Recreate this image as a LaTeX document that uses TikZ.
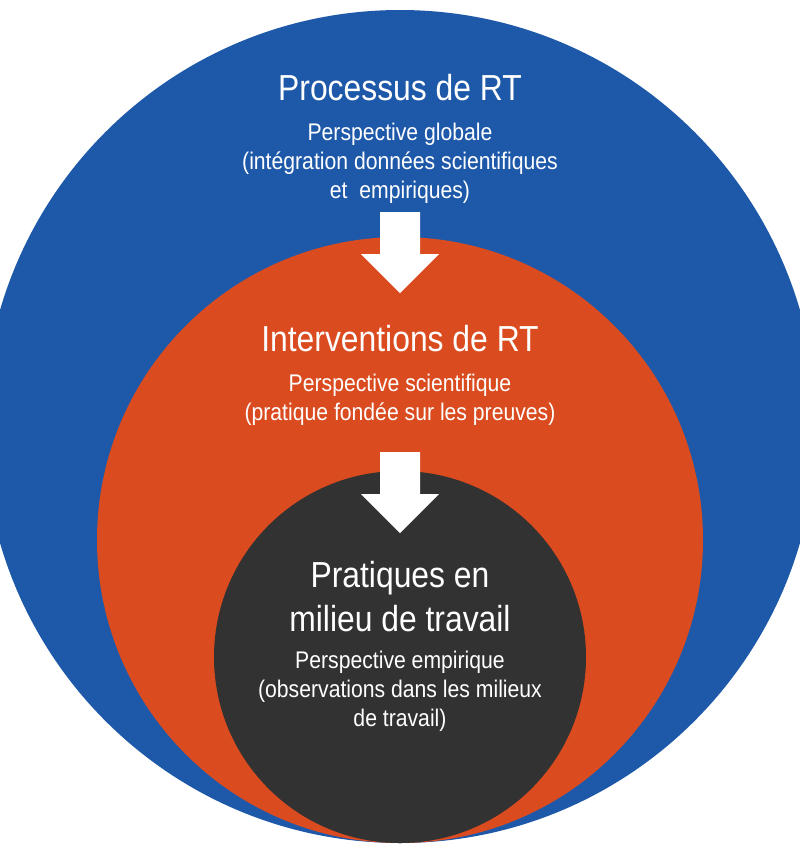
\documentclass[tikz,border=0pt]{standalone}
\usepackage{fontspec}
\setmainfont{Liberation Sans}[FakeStretch=0.88]
\definecolor{Blue}{RGB}{30,89,169}
\definecolor{Orange}{RGB}{218,75,31}
\definecolor{Dark}{RGB}{50,50,50}
\usetikzlibrary{positioning, calc}

\begin{document}
\begin{tikzpicture}[x=0.02cm, y=-0.02cm,
    title/.style={text=white, inner sep=0, anchor=north, align=center, font=\fontsize{20.6}{24.9}\selectfont},
    sub/.style={text=white, inner sep=0, anchor=north, align=center, font=\fontsize{13.7}{16.4}\selectfont}]

    \useasboundingbox (0,0) rectangle (800,850);
    \clip (0,0) rectangle (800,850);

    % circles
    \fill[Blue] (400,426.5) circle (416.5);
    \fill[Orange] (400,540) circle (303);
    \fill[Dark] (400,657) circle (186);

    % arrows
    \foreach \y in {212,452} {
        \fill[white] (380,\y) -- (420,\y) -- (420,\y+42) -- (439,\y+42)
            -- (400,\y+81) -- (361,\y+42) -- (380,\y+42) -- cycle;
    }

    % blue circle texts
    \node[title] (processus) at (400,74) {Processus de RT};
    \node[sub] (globale) at (400,123) {Perspective globale\\(intégration données scientifiques\\et~~empiriques)};

    % orange circle texts
    \node[title] (interventions) at (400,325) {Interventions de RT};
    \node[sub] (scientifique) at (400,374) {Perspective scientifique\\(pratique fondée sur les preuves)};

    % dark circle texts
    \node[title] (pratiques) at (400,561) {Pratiques en\\milieu de travail};
    \node[sub] (empirique) at (400,651) {Perspective empirique\\(observations dans les milieux\\de travail)};

\end{tikzpicture}
\end{document}
